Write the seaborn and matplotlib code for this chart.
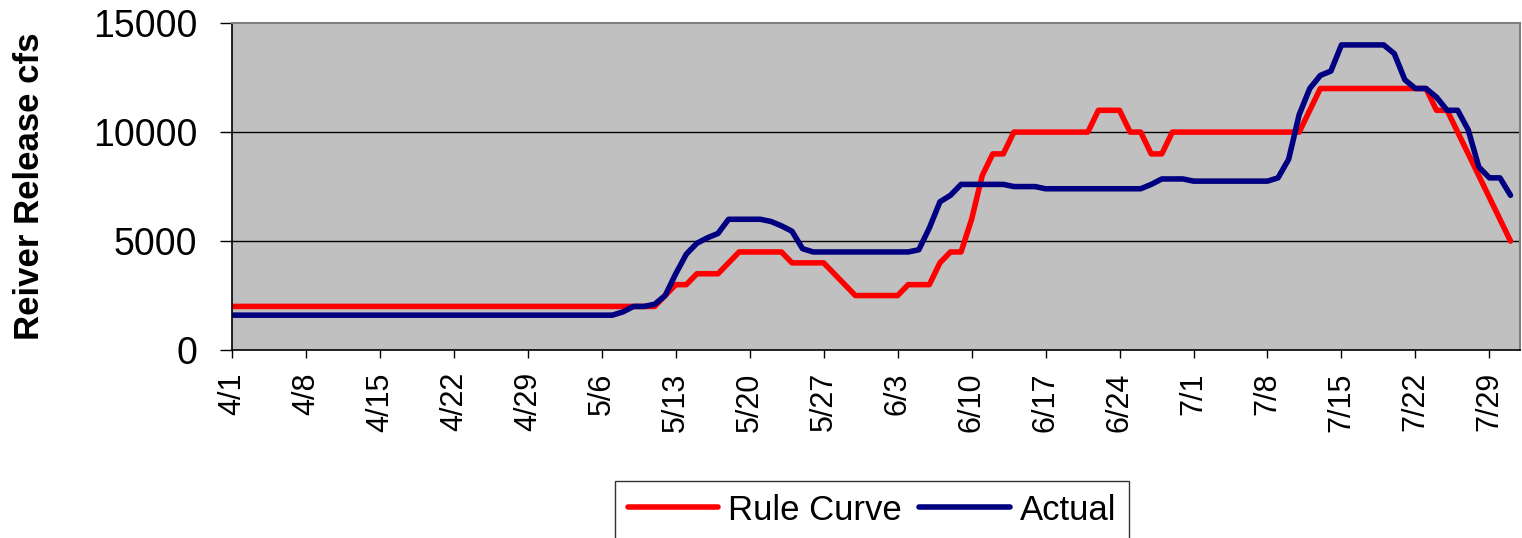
import numpy as np
import pandas as pd
import matplotlib
matplotlib.use('Agg')
import matplotlib.pyplot as plt
import seaborn as sns

# ── data (daily, 4/1 - 7/31) ─────────────────────────
dates = pd.date_range('2007-04-01', '2007-07-31', freq='D')

rule_curve = ([2000] * 41 +                                   # 4/1 - 5/11
              [2500, 3000, 3000, 3500, 3500, 3500, 4000] +
              [4500] * 5 + [4000] * 4 + [3500, 3000] +
              [2500] * 5 + [3000] * 3 + [4000, 4500, 4500, 6000, 8000, 9000, 9000] +
              [10000] * 8 + [11000] * 3 + [10000, 10000, 9000, 9000] +
              [10000] * 13 + [11000] + [12000] * 11 +
              [11000, 11000, 10000, 9000, 8000, 7000, 6000, 5000])

actual = ([1600] * 37 + [1750, 2000, 2000, 2100, 2500, 3500, 4400, 4900, 5150, 5350] +
          [6000] * 4 + [5900, 5700, 5450, 4650] +
          [4500] * 10 + [4600, 5600, 6800, 7100] +
          [7600] * 5 + [7500] * 3 + [7400] * 10 + [7600, 7850, 7850, 7850] +
          [7750] * 8 + [7900, 8750, 10800, 12000, 12600, 12800] +
          [14000] * 5 + [13600, 12400, 12000, 12000, 11600, 11000, 11000,
                         10100, 8400, 7900, 7900, 7100])

tick_dates = pd.date_range('2007-04-01', periods=18, freq='7D')
tick_labels = [f'{d.month}/{d.day}' for d in tick_dates]
y_ticks = [0, 5000, 10000, 15000]

df = pd.DataFrame({'Date': list(dates) * 2,
                   'Release': rule_curve + actual,
                   'Series': ['Rule Curve'] * len(dates) + ['Actual'] * len(dates)})

# ── plot ─────────────────────────────────────────────
sns.set_style('white')
plt.rcParams['font.family'] = ['Liberation Sans', 'DejaVu Sans']
plt.rcParams['text.color'] = 'black'
plt.rcParams['xtick.color'] = 'black'
plt.rcParams['ytick.color'] = 'black'
plt.rcParams['axes.labelcolor'] = 'black'

fig = plt.figure(figsize=(15.22, 5.38), dpi=100)
ax = fig.add_axes([0.1524, 0.3494, 0.8463, 0.6076])
ax.set_facecolor('#C0C0C0')

sns.lineplot(data=df, x='Date', y='Release', hue='Series',
             palette={'Rule Curve': '#FF0000', 'Actual': '#000080'},
             linewidth=4, ax=ax, legend=False,
             solid_capstyle='round', solid_joinstyle='round')

ax.set_xlim(dates[0], dates[0] + pd.Timedelta(days=121.9))
ax.set_ylim(0, 15000)
ax.set_yticks(y_ticks)
ax.set_yticklabels([str(v) for v in y_ticks], fontsize=27)
ax.set_xticks(tick_dates)
ax.set_xticklabels(tick_labels, rotation=90, fontsize=22)
ax.tick_params(axis='y', length=9, width=1, pad=16, direction='out', left=True)
ax.tick_params(axis='x', length=6, width=1, pad=10, direction='out', bottom=True)

for v in [5000, 10000]:
    ax.axhline(v, color='black', lw=1, zorder=1)

for s in ['top', 'right']:
    ax.spines[s].set_color('#808080')
    ax.spines[s].set_linewidth(1.5)
for s in ['left', 'bottom']:
    ax.spines[s].set_color('black')
    ax.spines[s].set_linewidth(1.2)

ax.set_xlabel('')
ax.set_ylabel('Reiver Release cfs', fontsize=25, fontweight='bold', labelpad=34)

handles = [plt.Line2D([], [], color='#FF0000', lw=4, solid_capstyle='round'),
           plt.Line2D([], [], color='#000080', lw=4, solid_capstyle='round')]
leg = fig.legend(handles, ['Rule Curve', 'Actual'], loc='center',
                 bbox_to_anchor=(0.573, 0.052), ncol=2, fontsize=25,
                 frameon=True, fancybox=False, handlelength=2.6,
                 handletextpad=0.3, columnspacing=0.5, borderpad=0.35)
leg.get_frame().set_edgecolor('black')
leg.get_frame().set_linewidth(1)

fig.savefig('out.png', dpi=100)
